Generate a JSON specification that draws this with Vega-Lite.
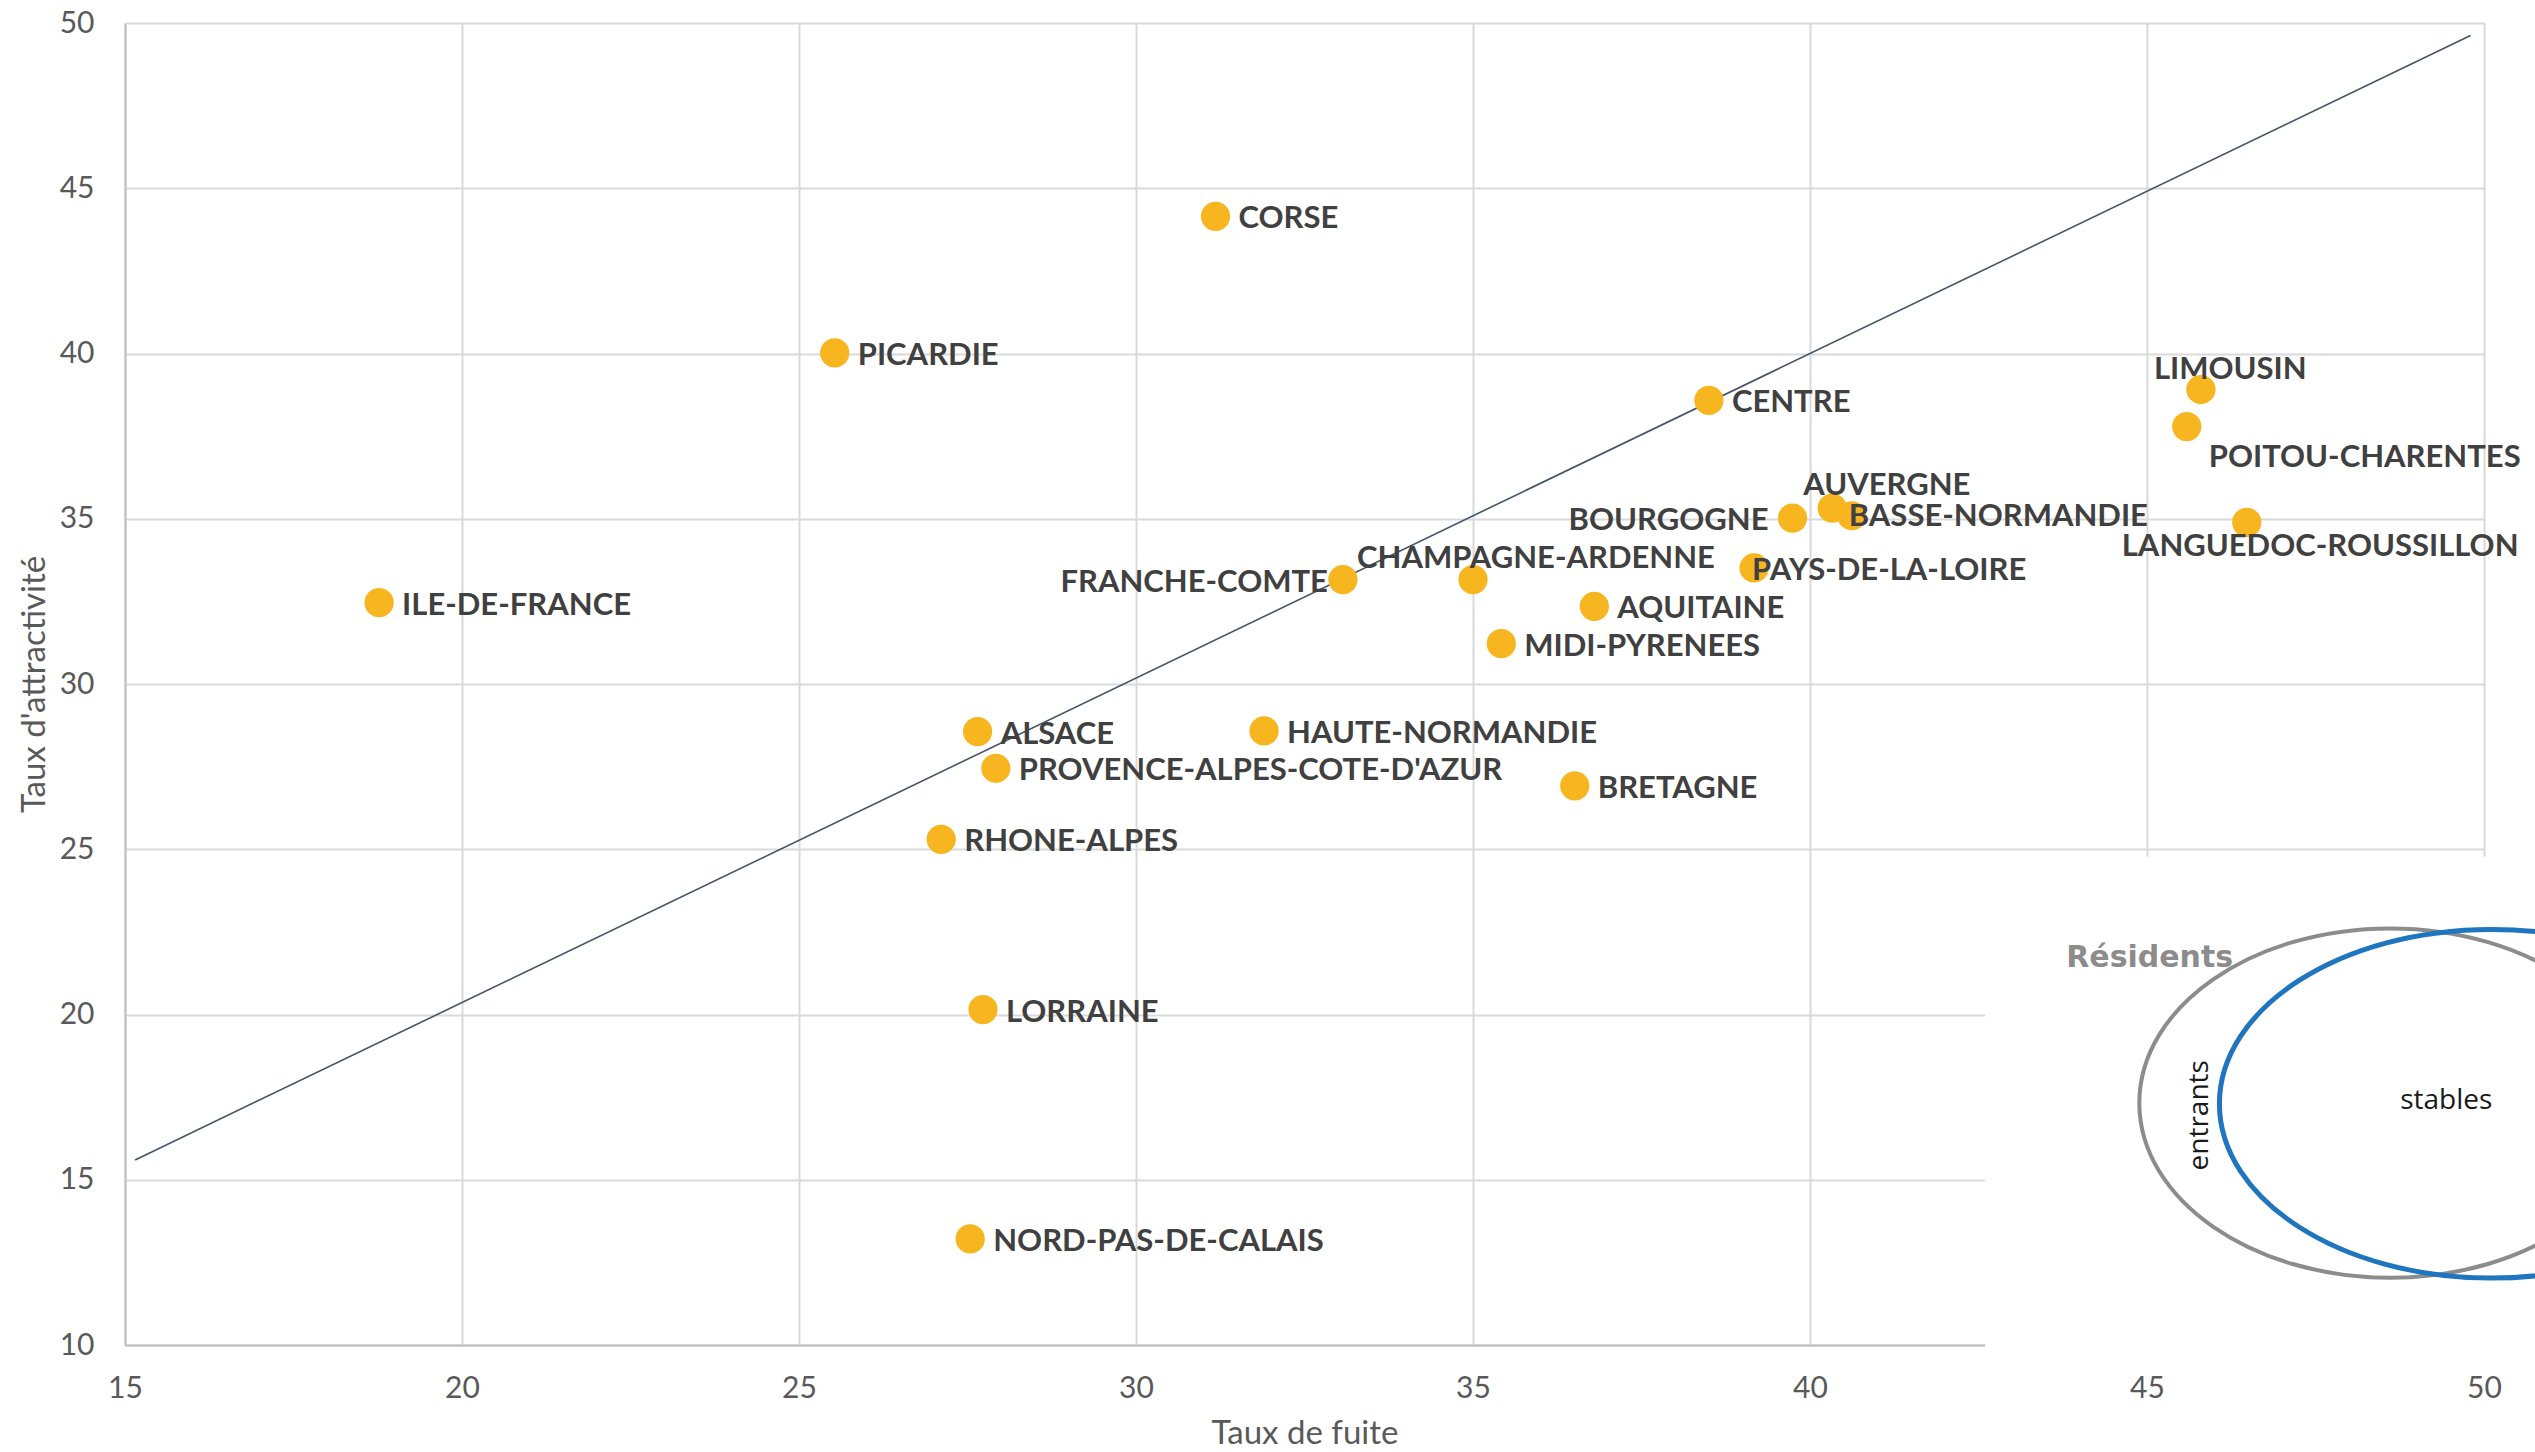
{
  "$schema": "https://vega.github.io/schema/vega-lite/v6.json",
  "width": 2359,
  "height": 1322,
  "autosize": {"type": "none"},
  "padding": {"left": 125, "top": 23, "right": 51, "bottom": 107},
  "background": "#FFFFFF",
  "config": {
    "view": {"stroke": null},
    "axis": {
      "labelFont": "Lato",
      "labelFontSize": 30,
      "labelColor": "#595959",
      "titleFont": "Lato",
      "titleFontSize": 33,
      "titleFontWeight": "normal",
      "titleColor": "#595959",
      "ticks": false,
      "tickSize": 0,
      "gridColor": "#D9D9D9",
      "gridWidth": 2,
      "domainColor": "#BFBFBF",
      "domainWidth": 2,
      "labelFlush": false,
      "labelOverlap": false,
      "format": "d"
    }
  },
  "datasets": {
    "regions": [
      {"region": "ILE-DE-FRANCE", "fuite": 18.77, "attractivite": 32.46},
      {"region": "PICARDIE", "fuite": 25.53, "attractivite": 40.02},
      {"region": "CORSE", "fuite": 31.18, "attractivite": 44.15},
      {"region": "CENTRE", "fuite": 38.5, "attractivite": 38.58},
      {"region": "LIMOUSIN", "fuite": 45.8, "attractivite": 38.91},
      {"region": "POITOU-CHARENTES", "fuite": 45.59, "attractivite": 37.79},
      {"region": "AUVERGNE", "fuite": 40.33, "attractivite": 35.32},
      {"region": "BASSE-NORMANDIE", "fuite": 40.62, "attractivite": 35.09},
      {"region": "BOURGOGNE", "fuite": 39.74, "attractivite": 35.02},
      {"region": "LANGUEDOC-ROUSSILLON", "fuite": 46.48, "attractivite": 34.89},
      {"region": "PAYS-DE-LA-LOIRE", "fuite": 39.17, "attractivite": 33.51},
      {"region": "FRANCHE-COMTE", "fuite": 33.07, "attractivite": 33.16},
      {"region": "CHAMPAGNE-ARDENNE", "fuite": 35.0, "attractivite": 33.16},
      {"region": "AQUITAINE", "fuite": 36.8, "attractivite": 32.35},
      {"region": "MIDI-PYRENEES", "fuite": 35.42, "attractivite": 31.22},
      {"region": "ALSACE", "fuite": 27.65, "attractivite": 28.56},
      {"region": "HAUTE-NORMANDIE", "fuite": 31.9, "attractivite": 28.58},
      {"region": "PROVENCE-ALPES-COTE-D'AZUR", "fuite": 27.92, "attractivite": 27.45},
      {"region": "BRETAGNE", "fuite": 36.51, "attractivite": 26.92},
      {"region": "RHONE-ALPES", "fuite": 27.11, "attractivite": 25.3},
      {"region": "LORRAINE", "fuite": 27.73, "attractivite": 20.15},
      {"region": "NORD-PAS-DE-CALAIS", "fuite": 27.54, "attractivite": 13.21}
    ],
    "diagonale": [
      {"fuite": 15.15, "attractivite": 15.6},
      {"fuite": 49.8, "attractivite": 49.62}
    ],
    "encart": [
      {"element": "fond"}
    ]
  },
  "layer": [
    {
      "data": {"name": "diagonale"},
      "mark": {"type": "line", "color": "#44546A", "strokeWidth": 1.6},
      "encoding": {
        "x": {
          "field": "fuite",
          "type": "quantitative",
          "scale": {"domain": [15, 50], "nice": false, "zero": false},
          "axis": {"values": [15, 20, 25, 30, 35, 40, 45, 50], "title": "Taux de fuite", "labelPadding": 28, "titlePadding": 14, "format": "d"}
        },
        "y": {
          "field": "attractivite",
          "type": "quantitative",
          "scale": {"domain": [10, 50], "nice": false, "zero": false},
          "axis": {"values": [10, 15, 20, 25, 30, 35, 40, 45, 50], "title": "Taux d'attractivité", "labelPadding": 31, "titlePadding": 8, "format": "d"}
        }
      }
    },
    {
      "data": {"name": "regions"},
      "encoding": {
        "x": {"field": "fuite", "type": "quantitative"},
        "y": {"field": "attractivite", "type": "quantitative"}
      },
      "layer": [
        {
          "mark": {"type": "circle", "color": "#F7B520", "opacity": 1, "size": 855}
        },
        {
          "transform": [{"filter": {"not": {"field": "region", "oneOf": ["FRANCHE-COMTE", "BOURGOGNE", "CHAMPAGNE-ARDENNE", "AUVERGNE", "LIMOUSIN", "POITOU-CHARENTES", "LANGUEDOC-ROUSSILLON", "BASSE-NORMANDIE", "PAYS-DE-LA-LOIRE"]}}}],
          "mark": {"type": "text", "font": "Lato", "fontSize": 31, "fontWeight": "bold", "color": "#404040", "align": "left", "baseline": "middle", "dx": 23, "dy": 3},
          "encoding": {"text": {"field": "region"}}
        },
        {
          "transform": [{"filter": {"field": "region", "equal": "FRANCHE-COMTE"}}],
          "mark": {"type": "text", "font": "Lato", "fontSize": 31, "fontWeight": "bold", "color": "#404040", "align": "right", "baseline": "middle", "dx": -15, "dy": 3},
          "encoding": {"text": {"field": "region"}}
        },
        {
          "transform": [{"filter": {"field": "region", "equal": "BOURGOGNE"}}],
          "mark": {"type": "text", "font": "Lato", "fontSize": 31, "fontWeight": "bold", "color": "#404040", "align": "right", "baseline": "middle", "dx": -24, "dy": 3},
          "encoding": {"text": {"field": "region"}}
        },
        {
          "transform": [{"filter": {"field": "region", "equal": "CHAMPAGNE-ARDENNE"}}],
          "mark": {"type": "text", "font": "Lato", "fontSize": 31, "fontWeight": "bold", "color": "#404040", "align": "left", "baseline": "middle", "dx": -116, "dy": -21},
          "encoding": {"text": {"field": "region"}}
        },
        {
          "transform": [{"filter": {"field": "region", "equal": "AUVERGNE"}}],
          "mark": {"type": "text", "font": "Lato", "fontSize": 31, "fontWeight": "bold", "color": "#404040", "align": "left", "baseline": "middle", "dx": -29, "dy": -22},
          "encoding": {"text": {"field": "region"}}
        },
        {
          "transform": [{"filter": {"field": "region", "equal": "LIMOUSIN"}}],
          "mark": {"type": "text", "font": "Lato", "fontSize": 31, "fontWeight": "bold", "color": "#404040", "align": "left", "baseline": "middle", "dx": -47, "dy": -20},
          "encoding": {"text": {"field": "region"}}
        },
        {
          "transform": [{"filter": {"field": "region", "equal": "POITOU-CHARENTES"}}],
          "mark": {"type": "text", "font": "Lato", "fontSize": 31, "fontWeight": "bold", "color": "#404040", "align": "left", "baseline": "middle", "dx": 22, "dy": 31},
          "encoding": {"text": {"field": "region"}}
        },
        {
          "transform": [{"filter": {"field": "region", "equal": "LANGUEDOC-ROUSSILLON"}}],
          "mark": {"type": "text", "font": "Lato", "fontSize": 31, "fontWeight": "bold", "color": "#404040", "align": "left", "baseline": "middle", "dx": -125, "dy": 25},
          "encoding": {"text": {"field": "region"}}
        },
        {
          "transform": [{"filter": {"field": "region", "equal": "BASSE-NORMANDIE"}}],
          "mark": {"type": "text", "font": "Lato", "fontSize": 31, "fontWeight": "bold", "color": "#404040", "align": "left", "baseline": "middle", "dx": -3, "dy": 1},
          "encoding": {"text": {"field": "region"}}
        },
        {
          "transform": [{"filter": {"field": "region", "equal": "PAYS-DE-LA-LOIRE"}}],
          "mark": {"type": "text", "font": "Lato", "fontSize": 31, "fontWeight": "bold", "color": "#404040", "align": "left", "baseline": "middle", "dx": -2, "dy": 3},
          "encoding": {"text": {"field": "region"}}
        }
      ]
    },
    {
      "data": {"name": "encart"},
      "layer": [
        {
          "mark": {"type": "rect", "color": "#FFFFFF", "opacity": 1},
          "encoding": {
            "x": {"datum": 42.6, "type": "quantitative"},
            "x2": {"datum": 52},
            "y": {"datum": 24.77, "type": "quantitative"},
            "y2": {"datum": 9.6}
          }
        },
        {
          "mark": {"type": "point", "filled": false, "opacity": 1, "color": "#8C8C8C", "strokeWidth": 4, "size": 252004,
            "shape": "M1,0C1,0.384,0.552,0.696,0,0.696C-0.552,0.696,-1,0.384,-1,0C-1,-0.384,-0.552,-0.696,0,-0.696C0.552,-0.696,1,-0.384,1,0Z"},
          "encoding": {
            "x": {"datum": 48.61, "type": "quantitative"},
            "y": {"datum": 17.32, "type": "quantitative"}
          }
        },
        {
          "mark": {"type": "point", "filled": false, "opacity": 1, "color": "#1F75BE", "strokeWidth": 5, "size": 295936,
            "shape": "M1,0C1,0.354,0.552,0.641,0,0.641C-0.552,0.641,-1,0.354,-1,0C-1,-0.354,-0.552,-0.641,0,-0.641C0.552,-0.641,1,-0.354,1,0Z"},
          "encoding": {
            "x": {"datum": 50.11, "type": "quantitative"},
            "y": {"datum": 17.3, "type": "quantitative"}
          }
        },
        {
          "mark": {"type": "text", "text": "Résidents", "font": "DejaVu Sans", "fontSize": 30, "fontWeight": "bold", "color": "#8C8C8C", "align": "center", "baseline": "alphabetic"},
          "encoding": {
            "x": {"datum": 45.04, "type": "quantitative"},
            "y": {"datum": 21.45, "type": "quantitative"}
          }
        },
        {
          "mark": {"type": "text", "text": "entrants", "font": "Open Sans", "fontSize": 28, "color": "#1A1A1A", "align": "center", "baseline": "alphabetic", "angle": 270},
          "encoding": {
            "x": {"datum": 45.9, "type": "quantitative"},
            "y": {"datum": 16.95, "type": "quantitative"}
          }
        },
        {
          "mark": {"type": "text", "text": "stables", "font": "Open Sans", "fontSize": 28, "color": "#1A1A1A", "align": "center", "baseline": "alphabetic"},
          "encoding": {
            "x": {"datum": 49.44, "type": "quantitative"},
            "y": {"datum": 17.15, "type": "quantitative"}
          }
        }
      ]
    }
  ]
}
